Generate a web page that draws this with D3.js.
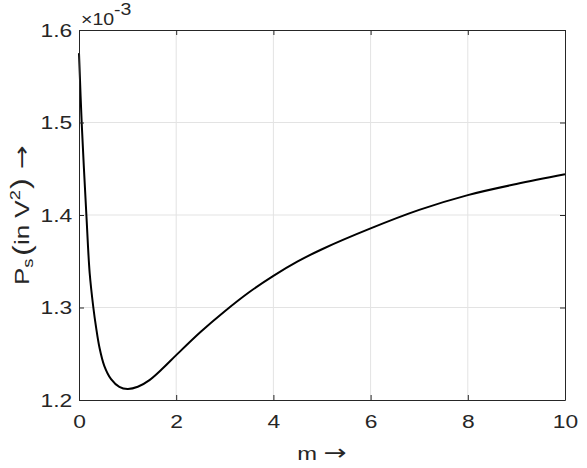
<!DOCTYPE html>
<html>
<head>
<meta charset="utf-8">
<script src="https://cdn.jsdelivr.net/npm/d3@7/dist/d3.min.js"></script>
<style>
  html, body { margin: 0; padding: 0; background: #fff; }
  svg { display: block; font-family: "Liberation Sans", Arial, Helvetica, sans-serif; }
</style>
</head>
<body>
<svg id="chart" width="587" height="468"></svg>
<script>
// Data (m, P_s in units of 1e-3 V^2)
const mValues = [0, 0.055, 0.152, 0.22, 0.295, 0.35, 0.42, 0.52, 0.66, 0.83, 1.0, 1.21, 1.45, 1.73, 2.0, 2.5, 3.0, 3.5, 4.0, 4.5, 5, 6, 7, 8, 9, 10];
const psValues = [1.575, 1.500, 1.400, 1.337, 1.300, 1.279, 1.257, 1.237, 1.2226, 1.2143, 1.2120, 1.2143, 1.2215, 1.2345, 1.2485, 1.2735, 1.2960, 1.3165, 1.3342, 1.3498, 1.3630, 1.3855, 1.4055, 1.4215, 1.4335, 1.4440];
const xTicks = [0, 2, 4, 6, 8, 10];
const yTicks = [1.2, 1.3, 1.4, 1.5, 1.6];
const yTickLabels = ["1.2", "1.3", "1.4", "1.5", "1.6"];

const W = 587, H = 468;
const margin = { left: 79, top: 30, right: 22, bottom: 68 };
const iw = W - margin.left - margin.right;
const ih = H - margin.top - margin.bottom;
const axisColor = "#262626";
const gridColor = "#e3e3e3";
const stretch = 1.2;   // the reference font is wider than Liberation Sans
const fontSize = 19;

const svg = d3.select("#chart");
const g = svg.append("g").attr("transform", `translate(${margin.left},${margin.top})`);

const x = d3.scaleLinear().domain([0, 10]).range([0, iw]);
const y = d3.scaleLinear().domain([1.2, 1.6]).range([ih, 0]);

// Grid
g.append("g").selectAll("line").data(xTicks.slice(1, -1)).join("line")
  .attr("x1", d => x(d)).attr("x2", d => x(d)).attr("y1", 0).attr("y2", ih)
  .attr("stroke", gridColor).attr("stroke-width", 1);
g.append("g").selectAll("line").data(yTicks.slice(1, -1)).join("line")
  .attr("y1", d => y(d)).attr("y2", d => y(d)).attr("x1", 0).attr("x2", iw)
  .attr("stroke", gridColor).attr("stroke-width", 1);

// Curve
const line = d3.line().x((d, i) => x(mValues[i])).y(d => y(d)).curve(d3.curveCatmullRom.alpha(0.5));
g.append("path").datum(psValues)
  .attr("d", line).attr("fill", "none").attr("stroke", "#000").attr("stroke-width", 2)
  .attr("stroke-linejoin", "round");

// Axes
function styleAxis(sel) {
  sel.attr("font-family", null).attr("font-size", null);
  sel.select(".domain").attr("stroke", axisColor);
  sel.selectAll(".tick line").attr("stroke", axisColor);
  sel.selectAll(".tick text").attr("fill", axisColor)
    .style("font-size", fontSize + "px")
    .attr("transform", `scale(${stretch},1)`);
}
const xAxis = g.append("g").attr("transform", `translate(0,${ih})`)
  .call(d3.axisBottom(x).tickValues(xTicks).tickSize(-5).tickPadding(15).tickSizeOuter(0).tickFormat(d3.format("d")));
styleAxis(xAxis);

const yAxis = g.append("g")
  .call(d3.axisLeft(y).tickValues(yTicks).tickSize(-5).tickPadding(5.6).tickSizeOuter(0)
    .tickFormat((d, i) => yTickLabels[i]));
styleAxis(yAxis);

const xTop = g.append("g")
  .call(d3.axisTop(x).tickValues(xTicks).tickSize(-5).tickSizeOuter(0).tickFormat(""));
styleAxis(xTop);
const yRight = g.append("g").attr("transform", `translate(${iw},0)`)
  .call(d3.axisRight(y).tickValues(yTicks).tickSize(-5).tickSizeOuter(0).tickFormat(""));
styleAxis(yRight);

// Exponent label
const exp = svg.append("text").attr("transform", `translate(81,25) scale(1.22,1)`)
  .attr("fill", axisColor).style("font-size", "16px");
exp.append("tspan").text("×10");
exp.append("tspan").attr("dy", -10).text("-3");

// X label
const xl = svg.append("text")
  .attr("transform", `translate(${margin.left + iw / 2},460) scale(1.25,1)`)
  .attr("text-anchor", "middle").attr("fill", axisColor).style("font-size", fontSize + "px");
xl.append("tspan").text("m ");
xl.append("tspan").style("font-family", "'DejaVu Sans'").style("font-size", "22px").text("→");

// Y label
const yl = svg.append("text")
  .attr("transform", `translate(28.5,${margin.top + ih / 2}) rotate(-90) scale(1.3,1)`)
  .attr("text-anchor", "middle").attr("fill", axisColor).style("font-size", "20px");
yl.append("tspan").text("P");
yl.append("tspan").attr("dy", 4).style("font-size", "14px").text("s");
yl.append("tspan").attr("dy", -2).attr("dx", 2).style("font-size", "25px").text("(");
yl.append("tspan").attr("dy", -2).text("in V");
yl.append("tspan").attr("dy", -9).style("font-size", "14px").text("2");
yl.append("tspan").attr("dy", 9).attr("dx", 1).style("font-size", "25px").text(")");
yl.append("tspan").attr("dy", 0).style("font-family", "'DejaVu Sans'").style("font-size", "22px").text(" →");
</script>
</body>
</html>
